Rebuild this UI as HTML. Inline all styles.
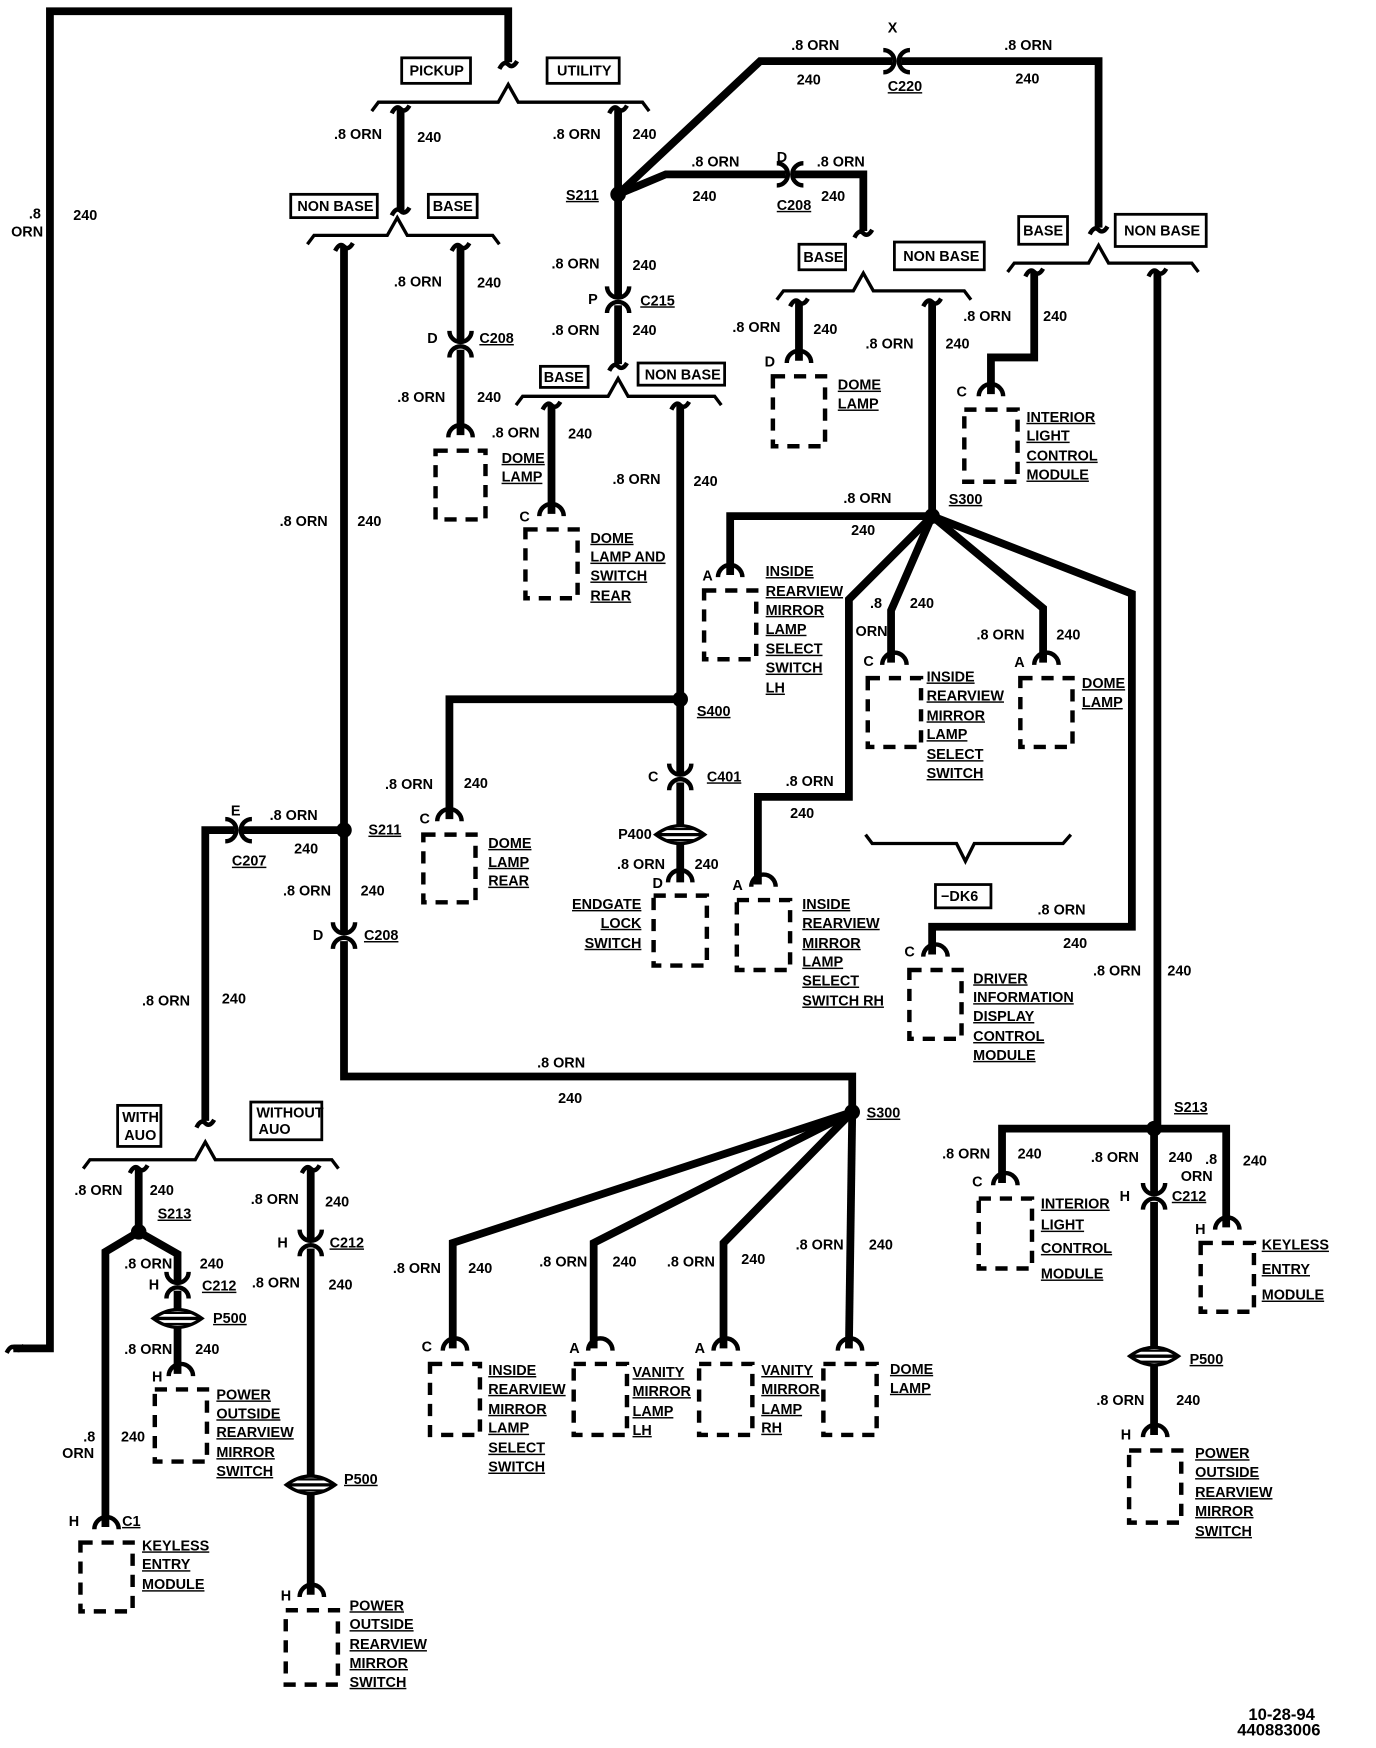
<!DOCTYPE html>
<html><head><meta charset="utf-8">
<style>
html,body{margin:0;padding:0;background:#fff;}
svg{display:block;}
text{font-family:"Liberation Sans",sans-serif;font-weight:bold;font-size:13px;fill:#000;}
.u{text-decoration:underline;}
.big{font-size:15px;}
</style></head>
<body>
<svg id="s" width="1376" height="1748" viewBox="0 0 1240 1575" xmlns="http://www.w3.org/2000/svg">
<g id="g" fill="none" stroke="#000" stroke-linejoin="miter"></g>
<g id="t">
<text x="26" y="197">.8</text><text x="10" y="213">ORN</text><text x="66" y="198">240</text>
<rect x="362" y="52" width="62" height="23" fill="none" stroke="#000" stroke-width="2.5"/><text x="369" y="68">PICKUP</text>
<rect x="493" y="52" width="65" height="23" fill="none" stroke="#000" stroke-width="2.5"/><text x="502" y="68">UTILITY</text>
<text x="301" y="125">.8 ORN</text><text x="376" y="128">240</text>
<text x="498" y="125">.8 ORN</text><text x="570" y="125">240</text>
<text x="510" y="180" class="u">S211</text>
<text x="713" y="45">.8 ORN</text><text x="718" y="76">240</text>
<text x="800" y="29">X</text><text x="800" y="82" class="u">C220</text>
<text x="905" y="45">.8 ORN</text><text x="915" y="75">240</text>
<text x="623" y="150">.8 ORN</text><text x="624" y="181">240</text>
<text x="700" y="146">D</text><text x="700" y="189" class="u">C208</text>
<text x="736" y="150">.8 ORN</text><text x="740" y="181">240</text>
<rect x="262" y="175" width="78" height="21" fill="none" stroke="#000" stroke-width="2.5"/><text x="268" y="190">NON BASE</text>
<rect x="386" y="175" width="44" height="21" fill="none" stroke="#000" stroke-width="2.5"/><text x="390" y="190">BASE</text>
<text x="252" y="474">.8 ORN</text><text x="322" y="474">240</text>
<text x="355" y="258">.8 ORN</text><text x="430" y="259">240</text>
<text x="385" y="309">D</text><text x="432" y="309" class="u">C208</text>
<text x="358" y="362">.8 ORN</text><text x="430" y="362">240</text>
<text x="452" y="417" class="u">DOME</text><text x="452" y="434" class="u">LAMP</text>
<text x="497" y="242">.8 ORN</text><text x="570" y="243">240</text>
<text x="530" y="274">P</text><text x="577" y="275" class="u">C215</text>
<text x="497" y="302">.8 ORN</text><text x="570" y="302">240</text>
<rect x="487" y="330" width="43" height="19" fill="none" stroke="#000" stroke-width="2.5"/><text x="490" y="344">BASE</text>
<rect x="575" y="327" width="78" height="20" fill="none" stroke="#000" stroke-width="2.5"/><text x="581" y="342">NON BASE</text>
<text x="443" y="394">.8 ORN</text><text x="512" y="395">240</text>
<text x="468" y="470">C</text>
<text x="532" y="489" class="u">DOME</text><text x="532" y="506" class="u">LAMP AND</text><text x="532" y="523" class="u">SWITCH</text><text x="532" y="541" class="u">REAR</text>
<text x="552" y="436">.8 ORN</text><text x="625" y="438">240</text>
<text x="628" y="645" class="u">S400</text>
<text x="584" y="704">C</text><text x="637" y="704" class="u">C401</text>
<text x="557" y="756">P400</text>
<text x="556" y="783">.8 ORN</text><text x="626" y="783">240</text>
<text x="588" y="800">D</text>
<text x="578" y="819" text-anchor="end" class="u">ENDGATE</text><text x="578" y="836" text-anchor="end" class="u">LOCK</text><text x="578" y="854" text-anchor="end" class="u">SWITCH</text>
<text x="347" y="711">.8 ORN</text><text x="418" y="710">240</text>
<text x="378" y="742">C</text>
<text x="440" y="764" class="u">DOME</text><text x="440" y="781" class="u">LAMP</text><text x="440" y="798" class="u">REAR</text>
<rect x="720" y="220" width="42" height="23" fill="none" stroke="#000" stroke-width="2.5"/><text x="724" y="236">BASE</text>
<rect x="806" y="218" width="81" height="25" fill="none" stroke="#000" stroke-width="2.5"/><text x="814" y="235">NON BASE</text>
<text x="660" y="299">.8 ORN</text><text x="733" y="301">240</text>
<text x="689" y="330">D</text>
<text x="755" y="351" class="u">DOME</text><text x="755" y="368" class="u">LAMP</text>
<text x="780" y="314">.8 ORN</text><text x="852" y="314">240</text>
<rect x="918" y="195" width="44" height="25" fill="none" stroke="#000" stroke-width="2.5"/><text x="922" y="212">BASE</text>
<rect x="1005" y="193" width="82" height="29" fill="none" stroke="#000" stroke-width="2.5"/><text x="1013" y="212">NON BASE</text>
<text x="868" y="289">.8 ORN</text><text x="940" y="289">240</text>
<text x="862" y="357">C</text>
<text x="925" y="380" class="u">INTERIOR</text><text x="925" y="397" class="u">LIGHT</text><text x="925" y="415" class="u">CONTROL</text><text x="925" y="432" class="u">MODULE</text>
<text x="760" y="453">.8 ORN</text><text x="767" y="482">240</text>
<text x="855" y="454" class="u">S300</text>
<text x="633" y="523">A</text>
<text x="690" y="519" class="u">INSIDE</text><text x="690" y="537" class="u">REARVIEW</text><text x="690" y="554" class="u">MIRROR</text><text x="690" y="571" class="u">LAMP</text><text x="690" y="589" class="u">SELECT</text><text x="690" y="606" class="u">SWITCH</text><text x="690" y="624" class="u">LH</text>
<text x="784" y="548">.8</text><text x="771" y="573">ORN</text><text x="820" y="548">240</text>
<text x="778" y="600">C</text>
<text x="835" y="614" class="u">INSIDE</text><text x="835" y="631" class="u">REARVIEW</text><text x="835" y="649" class="u">MIRROR</text><text x="835" y="666" class="u">LAMP</text><text x="835" y="684" class="u">SELECT</text><text x="835" y="701" class="u">SWITCH</text>
<text x="880" y="576">.8 ORN</text><text x="952" y="576">240</text>
<text x="914" y="601">A</text>
<text x="975" y="620" class="u">DOME</text><text x="975" y="637" class="u">LAMP</text>
<text x="708" y="708">.8 ORN</text><text x="712" y="737">240</text>
<text x="660" y="802">A</text>
<text x="723" y="819" class="u">INSIDE</text><text x="723" y="836" class="u">REARVIEW</text><text x="723" y="854" class="u">MIRROR</text><text x="723" y="871" class="u">LAMP</text><text x="723" y="888" class="u">SELECT</text><text x="723" y="906" class="u">SWITCH RH</text>
<rect x="843" y="797" width="50" height="21" fill="none" stroke="#000" stroke-width="2.5"/><text x="848" y="812">−DK6</text>
<text x="935" y="824">.8 ORN</text><text x="958" y="854">240</text>
<text x="815" y="862">C</text>
<text x="877" y="886" class="u">DRIVER</text><text x="877" y="903" class="u">INFORMATION</text><text x="877" y="920" class="u">DISPLAY</text><text x="877" y="938" class="u">CONTROL</text><text x="877" y="955" class="u">MODULE</text>
<text x="985" y="879">.8 ORN</text><text x="1052" y="879">240</text>
<text x="208" y="735">E</text><text x="243" y="739">.8 ORN</text><text x="265" y="769">240</text>
<text x="332" y="752" class="u">S211</text><text x="209" y="780" class="u">C207</text>
<text x="255" y="807">.8 ORN</text><text x="325" y="807">240</text>
<text x="282" y="847">D</text><text x="328" y="847" class="u">C208</text>
<text x="128" y="906">.8 ORN</text><text x="200" y="904">240</text>
<text x="484" y="962">.8 ORN</text><text x="503" y="994">240</text>
<text x="781" y="1007" class="u">S300</text>
<rect x="106" y="996" width="39" height="37" fill="none" stroke="#000" stroke-width="2.5"/><text x="110" y="1011">WITH</text><text x="112" y="1027">AUO</text>
<rect x="226" y="993" width="64" height="34" fill="none" stroke="#000" stroke-width="2.5"/><text x="231" y="1007">WITHOUT</text><text x="233" y="1022">AUO</text>
<text x="67" y="1077">.8 ORN</text><text x="135" y="1077">240</text>
<text x="142" y="1098" class="u">S213</text>
<text x="112" y="1143">.8 ORN</text><text x="180" y="1143">240</text>
<text x="134" y="1162">H</text><text x="182" y="1163" class="u">C212</text>
<text x="192" y="1192" class="u">P500</text>
<text x="112" y="1220">.8 ORN</text><text x="176" y="1220">240</text>
<text x="137" y="1245">H</text>
<text x="195" y="1261" class="u">POWER</text><text x="195" y="1278" class="u">OUTSIDE</text><text x="195" y="1295" class="u">REARVIEW</text><text x="195" y="1313" class="u">MIRROR</text><text x="195" y="1330" class="u">SWITCH</text>
<text x="75" y="1299">.8</text><text x="56" y="1314">ORN</text><text x="109" y="1299">240</text>
<text x="62" y="1375">H</text><text x="110" y="1375" class="u">C1</text>
<text x="128" y="1397" class="u">KEYLESS</text><text x="128" y="1414" class="u">ENTRY</text><text x="128" y="1432" class="u">MODULE</text>
<text x="226" y="1085">.8 ORN</text><text x="293" y="1087">240</text>
<text x="250" y="1124">H</text><text x="297" y="1124" class="u">C212</text>
<text x="227" y="1160">.8 ORN</text><text x="296" y="1162">240</text>
<text x="310" y="1337" class="u">P500</text>
<text x="253" y="1442">H</text>
<text x="315" y="1451" class="u">POWER</text><text x="315" y="1468" class="u">OUTSIDE</text><text x="315" y="1486" class="u">REARVIEW</text><text x="315" y="1503" class="u">MIRROR</text><text x="315" y="1520" class="u">SWITCH</text>
<text x="354" y="1147">.8 ORN</text><text x="422" y="1147">240</text>
<text x="380" y="1218">C</text>
<text x="440" y="1239" class="u">INSIDE</text><text x="440" y="1256" class="u">REARVIEW</text><text x="440" y="1274" class="u">MIRROR</text><text x="440" y="1291" class="u">LAMP</text><text x="440" y="1309" class="u">SELECT</text><text x="440" y="1326" class="u">SWITCH</text>
<text x="486" y="1141">.8 ORN</text><text x="552" y="1141">240</text>
<text x="513" y="1219">A</text>
<text x="570" y="1241" class="u">VANITY</text><text x="570" y="1258" class="u">MIRROR</text><text x="570" y="1276" class="u">LAMP</text><text x="570" y="1293" class="u">LH</text>
<text x="601" y="1141">.8 ORN</text><text x="668" y="1139">240</text>
<text x="626" y="1219">A</text>
<text x="686" y="1239" class="u">VANITY</text><text x="686" y="1256" class="u">MIRROR</text><text x="686" y="1274" class="u">LAMP</text><text x="686" y="1291" class="u">RH</text>
<text x="717" y="1126">.8 ORN</text><text x="783" y="1126">240</text>
<text x="802" y="1238" class="u">DOME</text><text x="802" y="1255" class="u">LAMP</text>
<text x="1058" y="1002" class="u">S213</text>
<text x="849" y="1044">.8 ORN</text><text x="917" y="1044">240</text>
<text x="876" y="1069">C</text>
<text x="938" y="1089" class="u">INTERIOR</text><text x="938" y="1108" class="u">LIGHT</text><text x="938" y="1129" class="u">CONTROL</text><text x="938" y="1152" class="u">MODULE</text>
<text x="983" y="1047">.8 ORN</text><text x="1053" y="1047">240</text><text x="1064" y="1064">ORN</text>
<text x="1086" y="1049">.8</text><text x="1120" y="1050">240</text>
<text x="1009" y="1082">H</text><text x="1056" y="1082" class="u">C212</text>
<text x="1077" y="1112">H</text>
<text x="1137" y="1126" class="u">KEYLESS</text><text x="1137" y="1148" class="u">ENTRY</text><text x="1137" y="1171" class="u">MODULE</text>
<text x="1072" y="1229" class="u">P500</text>
<text x="988" y="1266">.8 ORN</text><text x="1060" y="1266">240</text>
<text x="1010" y="1297">H</text>
<text x="1077" y="1314" class="u">POWER</text><text x="1077" y="1331" class="u">OUTSIDE</text><text x="1077" y="1349" class="u">REARVIEW</text><text x="1077" y="1366" class="u">MIRROR</text><text x="1077" y="1384" class="u">SWITCH</text>
<text x="1125" y="1550" class="big">10-28-94</text><text x="1115" y="1564" class="big">440883006</text>
</g>
</svg>
<script>
var g=document.getElementById('g'),NS='http://www.w3.org/2000/svg';
function P(d,w,f,s){var p=document.createElementNS(NS,'path');p.setAttribute('d',d);p.setAttribute('stroke-width',w||7);if(f){p.setAttribute('fill',f);}if(s){p.setAttribute('stroke',s);}g.appendChild(p);}
function W(pts){var d='M'+pts.map(function(p){return p.join(' ')}).join(' L');P(d,7);}
function dot(x,y){var c=document.createElementNS(NS,'circle');c.setAttribute('cx',x);c.setAttribute('cy',y);c.setAttribute('r',7);c.setAttribute('fill','#000');c.setAttribute('stroke','none');g.appendChild(c);}
function hook(x,y){P('M'+(x-8)+' '+(y+4)+' Q'+(x-4)+' '+(y-4)+' '+x+' '+y+' Q'+(x+4)+' '+(y+4)+' '+(x+8)+' '+(y-3),4);}
function brk(x1,x2,y,cx){P('M'+x1+' '+(y+8)+' L'+(x1+6)+' '+y+' L'+(cx-9)+' '+y+' L'+cx+' '+(y-16)+' L'+(cx+9)+' '+y+' L'+(x2-6)+' '+y+' L'+x2+' '+(y+8),3);}
function vcon(x,y){P('M'+x+' '+(y-3)+' L'+x+' '+(y+5),9,null,'#fff');
 P('M'+(x-10)+' '+(y-12)+' A10 10 0 0 0 '+(x+10)+' '+(y-12),4);
 P('M'+(x-10)+' '+(y+12)+' A10 10 0 0 1 '+(x+10)+' '+(y+12),4);}
function hcon(x,y){P('M'+(x-4)+' '+y+' L'+(x+4)+' '+y,9,null,'#fff');
 P('M'+(x-12)+' '+(y-10)+' A10 10 0 0 1 '+(x-12)+' '+(y+10),4);
 P('M'+(x+12)+' '+(y-10)+' A10 10 0 0 0 '+(x+12)+' '+(y+10),4);}
function comp(cx,y,w,h){var x=cx-w/2;P('M'+(cx-11)+' '+(y+2)+' A11 11 0 0 1 '+(cx+11)+' '+(y+2),4);
 var r=document.createElementNS(NS,'rect');r.setAttribute('x',x);r.setAttribute('y',y+14);r.setAttribute('width',w);r.setAttribute('height',h);r.setAttribute('stroke-width',4);r.setAttribute('stroke-dasharray','11 8');g.appendChild(r);}
function pill(x,y){P('M'+(x-22)+' '+y+' Q'+x+' '+(y-16)+' '+(x+22)+' '+y+' Q'+x+' '+(y+16)+' '+(x-22)+' '+y+' Z',3,'#fff');P('M'+(x-22)+' '+y+' L'+(x+22)+' '+y,3);P('M'+(x-14)+' '+(y-5)+' L'+(x+14)+' '+(y-5)+' M'+(x-14)+' '+(y+5)+' L'+(x+14)+' '+(y+5),2);}

W([[12,1215],[45,1215],[45,10],[458,10],[458,56]]);hook(458,58);hook(14,1215);
brk(335,585,92,458);
W([[361,98],[361,190]]);hook(361,98);hook(361,190);
W([[557,98],[557,328]]);hook(557,98);hook(557,330);dot(557,175);
W([[557,175],[685,55],[990,55],[990,205]]);hook(990,207);hcon(808,55);
W([[557,175],[600,157],[778,157],[778,208]]);hook(778,210);hcon(712,157);
vcon(557,270);
brk(277,450,212,358);
W([[310,222],[310,970],[768,970],[768,1002]]);hook(310,222);
W([[415,222],[415,392]]);hook(415,222);vcon(415,310);comp(415,392,45,62);
dot(310,748);
W([[310,748],[185,748],[185,1010]]);hcon(215,748);hook(185,1012);
vcon(310,843);
brk(465,650,357,557);
W([[497,365],[497,463]]);hook(497,365);comp(497,463,47,62);
W([[613,365],[613,795]]);hook(613,365);dot(613,630);vcon(613,700);pill(613,752);comp(613,793,48,63);
W([[613,630],[405,630],[405,738]]);comp(405,738,47,61);
brk(700,875,262,778);
W([[720,272],[720,325]]);hook(720,272);comp(720,325,47,63);
W([[840,272],[840,465]]);hook(840,272);dot(840,465);
brk(908,1080,237,990);
W([[932,245],[932,322],[893,322],[893,355]]);hook(932,245);comp(893,355,48,65);
W([[1043,245],[1043,1017]]);hook(1043,245);
W([[840,465],[658,465],[658,518]]);comp(658,518,47,62);
W([[840,465],[765,540],[765,718],[683,718],[683,797]]);comp(688,797,48,63);
W([[840,465],[803,550],[803,597]]);comp(806,597,48,62);
W([[840,465],[940,548],[940,597]]);comp(943,597,47,62);
W([[840,465],[1020,535],[1020,835],[840,835],[840,860]]);comp(843,860,47,62);
P('M780 752 L786 760 L862 760 L870 776 L878 760 L958 760 L965 752',3);
dot(768,1002);
W([[768,1002],[408,1120],[408,1215]]);comp(410,1215,45,64);
W([[768,1002],[535,1120],[535,1215]]);comp(541,1215,48,64);
W([[768,1002],[652,1120],[652,1215]]);comp(654,1215,48,64);
W([[768,1002],[765,1215]]);comp(766,1215,48,64);
brk(75,305,1045,185);
W([[125,1053],[125,1110]]);hook(125,1053);dot(125,1110);
W([[125,1110],[95,1128],[95,1376]]);comp(96,1376,47,62);
W([[125,1110],[160,1130],[160,1238]]);vcon(160,1158);pill(160,1188);comp(163,1238,47,65);
W([[280,1053],[280,1437]]);hook(280,1053);vcon(280,1120);pill(280,1338);comp(281,1437,47,67);
dot(1040,1017);
W([[1040,1017],[903,1017],[903,1066]]);comp(906,1066,48,63);
W([[1040,1017],[1105,1017],[1105,1106]]);comp(1106,1106,48,62);
W([[1040,1017],[1040,1293]]);vcon(1040,1078);pill(1040,1222);comp(1041,1293,47,65);
</script>
</body></html>
